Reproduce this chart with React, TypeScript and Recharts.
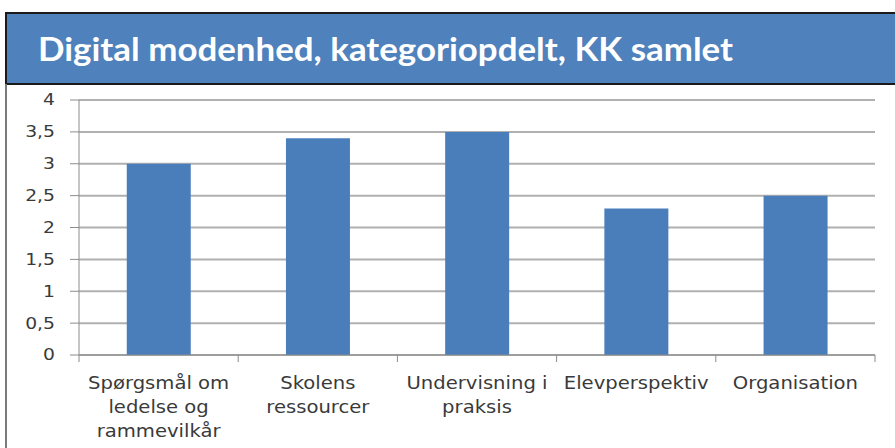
import { Bar, BarChart, CartesianGrid, XAxis, YAxis } from "recharts";

const categories = ["Spørgsmål om ledelse og rammevilkår", "Skolens ressourcer", "Undervisning i praksis", "Elevperspektiv", "Organisation"];
const labelLines = [
  ["Spørgsmål om", "ledelse og", "rammevilkår"],
  ["Skolens", "ressourcer"],
  ["Undervisning i", "praksis"],
  ["Elevperspektiv"],
  ["Organisation"],
];
const values = [3.0, 3.4, 3.5, 2.3, 2.5];
const yTicks = [0, 0.5, 1, 1.5, 2, 2.5, 3, 3.5, 4];

const TITLE = "Digital modenhed, kategoriopdelt, KK samlet";
const AXIS = "#8c8c8c";
const TEXT = "#3a3a3a";
const FONT = "'DejaVu Sans', sans-serif";

const data = categories.map((c, i) => ({ name: c, value: values[i] }));

function CategoryTick(props: any) {
  const { x, y, payload, index } = props;
  const half = payload?.offset ?? 79.6;
  const lines = labelLines[index] ?? [String(payload.value)];
  const last = index === categories.length - 1;
  return (
    <g>
      <line x1={x - half} x2={x - half} y1={y} y2={y + 7} stroke={AXIS} />
      {last && <line x1={x + half} x2={x + half} y1={y} y2={y + 7} stroke={AXIS} />}
      <text
        transform={`translate(${x},${y}) scale(1.09,1)`}
        textAnchor="middle"
        fill={TEXT}
        fontSize={18}
        fontFamily={FONT}
      >
        {lines.map((l, i) => (
          <tspan key={i} x={0} y={34 + i * 24}>
            {l}
          </tspan>
        ))}
      </text>
    </g>
  );
}

function ValueTick(props: any) {
  const { x, y, payload } = props;
  return (
    <text
      transform={`translate(${x},${y}) scale(1.25,1)`}
      textAnchor="end"
      dy="0.36em"
      fill={TEXT}
      fontSize={15}
      fontFamily={FONT}
    >
      {String(payload.value).replace(".", ",")}
    </text>
  );
}

export default function App() {
  return (
    <div style={{ position: "absolute", left: 0, top: 0, width: 895, height: 448, background: "#fff", overflow: "hidden" }}>
      <BarChart
        width={895}
        height={448}
        data={data}
        margin={{ top: 100, right: 20, bottom: 0, left: 0 }}
        barCategoryGap="30%"
      >
        <CartesianGrid vertical={false} stroke="#b0b0b0" strokeWidth={2} />
        <XAxis
          dataKey="name"
          height={93}
          axisLine={{ stroke: AXIS }}
          tickLine={false}
          tickSize={0}
          tickMargin={0}
          interval={0}
          tick={<CategoryTick />}
        />
        <YAxis
          width={79}
          domain={[0, 4]}
          ticks={yTicks}
          interval={0}
          axisLine={{ stroke: AXIS }}
          tickLine={{ stroke: AXIS }}
          tickSize={9}
          tickMargin={15}
          tick={<ValueTick />}
        />
        <Bar dataKey="value" fill="#4a7ebb" isAnimationActive={false} />
      </BarChart>
      <div
        style={{
          position: "absolute",
          left: 5,
          top: 12,
          width: 900,
          height: 69,
          background: "#4f81bd",
          border: "2px solid #1a1a1a",
          borderRight: "none",
        }}
      >
        <div
          style={{
            position: "absolute",
            left: 31,
            top: 16,
            color: "#fff",
            fontFamily: "Lato, sans-serif",
            fontWeight: 700,
            fontSize: 32,
            lineHeight: "38px",
            whiteSpace: "nowrap",
            transform: "scaleX(1.09)",
            transformOrigin: "left center",
          }}
        >
          {TITLE}
        </div>
      </div>
      <div style={{ position: "absolute", left: 5, top: 84, width: 2, height: 364, background: "#7a7a7a" }} />
    </div>
  );
}
